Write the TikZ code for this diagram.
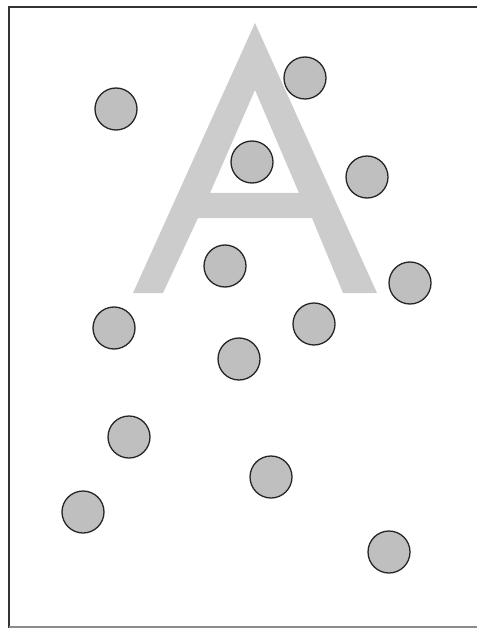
\documentclass[tikz,border=0pt]{standalone}
\begin{document}
\begin{tikzpicture}[x=1pt,y=-1pt,
  dot/.style={circle,draw=black!85,line width=1.3pt,fill=black!25,minimum size=42pt,inner sep=0pt}]
\useasboundingbox (0,0) rectangle (477,628);
% frame
\draw[line width=2.6pt,black!80] (9,628) -- (9,7) -- (477,7);
\draw[line width=1.5pt,black!45] (9,627) -- (477,627);
% letter A
\fill[black!20,even odd rule]
  (255,23) -- (377,293) -- (343,293) -- (312,218) -- (198,218) -- (163,293) -- (133,293) -- cycle
  (255,90) -- (299,193) -- (210,193) -- cycle;
% dots
\node[dot] (c1) at (116,109) {};
\node[dot] (c2) at (305,78) {};
\node[dot] (c3) at (252,162) {};
\node[dot] (c4) at (367,177) {};
\node[dot] (c5) at (225,266) {};
\node[dot] (c6) at (410,283) {};
\node[dot] (c7) at (114,328) {};
\node[dot] (c8) at (314,324) {};
\node[dot] (c9) at (239,359) {};
\node[dot] (c10) at (129,437) {};
\node[dot] (c11) at (271,477) {};
\node[dot] (c12) at (83,512) {};
\node[dot] (c13) at (389,552) {};
\end{tikzpicture}
\end{document}
